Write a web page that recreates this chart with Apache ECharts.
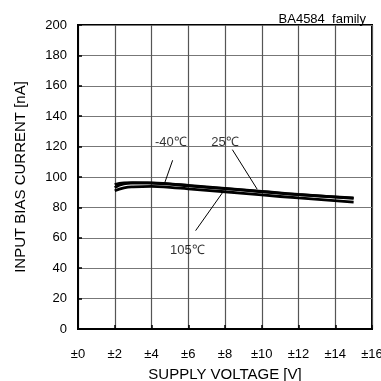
<!DOCTYPE html>
<html style="height: 100%">
<head>
    <meta charset="utf-8">
    <script src="https://cdn.jsdelivr.net/npm/echarts@6/dist/echarts.min.js"></script>
</head>
<body style="height: 100%; margin: 0; background: #fff">
    <div id="container" style="width: 381px; height: 381px"></div>
    <script type="text/javascript">
        var myChart = echarts.init(document.getElementById('container'));

        // supply voltage (±V) and input bias current (nA) per temperature
        var voltage = [2, 2.5, 3, 4, 5, 6, 8, 10, 12, 15];
        var cur40 = [93, 95.5, 96, 96.2, 95.5, 94.5, 92.5, 90.5, 88.5, 86];
        var cur25 = [95, 96.2, 96.3, 96, 95.3, 94.2, 92.3, 90.3, 88.4, 86.3];
        var cur105 = [91, 92.8, 93.5, 93.8, 93.2, 92.2, 90.3, 88.2, 86.2, 83.5];

        var xTicks = ['±0', '±2', '±4', '±6', '±8', '±10', '±12', '±14', '±16'];

        // annotation labels [x, y] and their leader lines
        var labelPos = { '-40℃': [5.05, 122.5], '25℃': [8.0, 122.5], '105℃': [5.95, 52] };
        var lead40 = [[5.15, 111], [4.7, 95.5]];
        var lead25 = [[8.4, 118], [9.75, 92]];
        var lead105 = [[7.9, 90.3], [6.4, 64.7]];

        var font = 'Liberation Sans, Arial, sans-serif';

        function pairs(ys) {
            return voltage.map(function (v, i) { return [v, ys[i]]; });
        }

        function curve(name, ys) {
            return {
                name: name, type: 'line', smooth: true, symbol: 'none',
                lineStyle: { color: '#000', width: 2.8 },
                data: pairs(ys), z: 5
            };
        }

        function leader(pts) {
            return {
                type: 'line', symbol: 'none', silent: true,
                lineStyle: { color: '#000', width: 1 },
                data: pts, z: 4
            };
        }

        var option = {
            animation: false,
            title: {
                text: 'BA4584  family',
                right: 10, top: 8,
                textStyle: { fontFamily: font, fontSize: 13, fontWeight: 'normal', color: '#000' }
            },
            grid: {
                left: 78, right: 9, top: 25, bottom: 52,
                outerBoundsMode: 'none', containLabel: false,
                show: true, borderColor: '#000', borderWidth: 2
            },
            xAxis: {
                type: 'value', min: 0, max: 16, interval: 2,
                name: 'SUPPLY VOLTAGE [V]', nameLocation: 'middle', nameGap: 38,
                nameTextStyle: { fontFamily: font, fontSize: 15, color: '#000' },
                axisLine: { lineStyle: { color: '#000', width: 2 } },
                axisTick: { inside: true, length: 4, lineStyle: { color: '#000', width: 1.5 } },
                axisLabel: {
                    fontFamily: font, fontSize: 13, color: '#000', margin: 19,
                    formatter: function (v) { return xTicks[v / 2]; }
                },
                splitLine: { lineStyle: { color: '#555', width: 1.2 } }
            },
            yAxis: {
                type: 'value', min: 0, max: 200, interval: 20,
                name: 'INPUT BIAS CURRENT [nA]', nameLocation: 'middle', nameGap: 50,
                nameTextStyle: { fontFamily: font, fontSize: 15, color: '#000' },
                axisLine: { lineStyle: { color: '#000', width: 2 } },
                axisTick: { inside: true, length: 4, lineStyle: { color: '#000', width: 1.5 } },
                axisLabel: { fontFamily: font, fontSize: 13, color: '#000', margin: 11 },
                splitLine: { lineStyle: { color: '#777', width: 1.2 } }
            },
            series: [
                curve('-40℃', cur40),
                curve('25℃', cur25),
                curve('105℃', cur105),
                leader(lead40),
                leader(lead25),
                leader(lead105),
                {
                    type: 'scatter', symbolSize: 0, silent: true,
                    data: Object.keys(labelPos).map(function (k) {
                        return { name: k, value: labelPos[k] };
                    }),
                    label: {
                        show: true, position: 'inside', formatter: '{b}',
                        fontFamily: font, fontSize: 13, color: '#000'
                    },
                    z: 6
                }
            ]
        };

        myChart.setOption(option);
    </script>
</body>
</html>
